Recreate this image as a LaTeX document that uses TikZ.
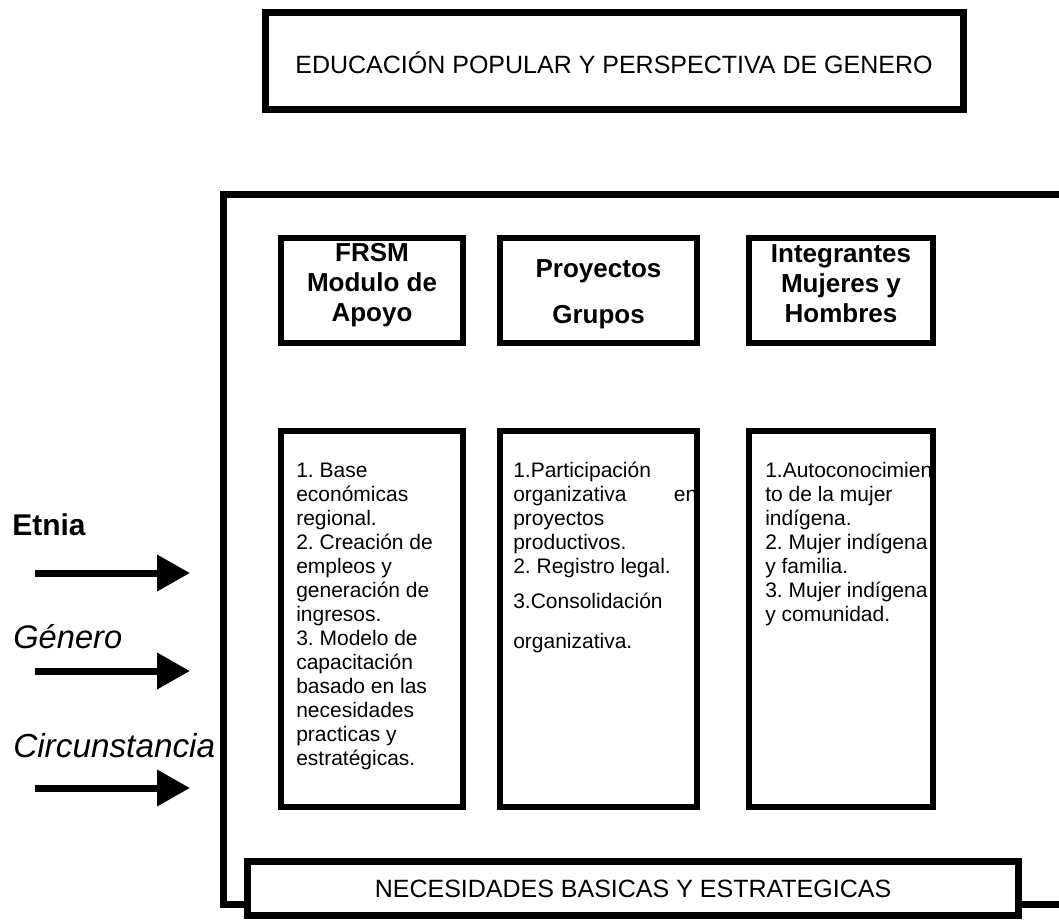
\documentclass[tikz,border=0pt]{standalone}
\usepackage{fontspec}
\setmainfont{Liberation Sans}
\usetikzlibrary{arrows.meta,fit}
\frenchspacing
\begin{document}
\begin{tikzpicture}[x=0.75pt,y=-0.75pt,
  thickbox/.style={draw=black,line width=5.25pt,fill=white,inner sep=0pt},
  innerbox/.style={draw=black,line width=4.5pt,inner sep=0pt},
  bigtxt/.style={inner sep=0pt,font=\fontsize{18.75}{22}\selectfont},
  headtxt/.style={inner sep=0pt,align=center,font=\bfseries\fontsize{19.5}{22.5}\selectfont},
  bodytxt/.style={inner sep=0pt,anchor=north west,align=left,font=\fontsize{15.75}{18}\selectfont},
  sidelbl/.style={inner sep=0pt,anchor=west},
  bigarrow/.style={line width=5.25pt,-{Triangle[length=24.75pt,width=26.25pt]}}
]
\useasboundingbox[fill=white] (0,0) rectangle (1059,923);

% title
\node[thickbox,fit={(265,13) (963,110)}] (title) {};
\node[bigtxt] (titlet) at (614,63) {EDUCACIÓN POPULAR Y PERSPECTIVA DE GENERO};

% outer frame
\coordinate (oTR) at (1070,195);
\coordinate (oTL) at (223,195);
\coordinate (oBL) at (223,904);
\coordinate (oBR) at (1070,904);
\draw[line width=5.25pt] (oTR) -- (oTL) -- (oBL) -- (oBR);

% header boxes
\node[innerbox,fit={(281,238) (463,343)}] (h1) {};
\node[innerbox,fit={(500,238) (697,343)}] (h2) {};
\node[innerbox,fit={(749,238) (933,343)}] (h3) {};
\node[headtxt] (h1t) at (372,285) {FRSM\\Modulo de\\Apoyo};
\node[headtxt] (h2t) at (598.5,294) {Proyectos\\[12pt]Grupos};
\node[headtxt] (h3t) at (841,284) {Integrantes\\Mujeres y\\Hombres};

% content boxes
\node[innerbox,fit={(281,431) (463,807)}] (c1) {};
\node[innerbox,fit={(500,431) (697,807)}] (c2) {};
\node[innerbox,fit={(749,431) (933,807)}] (c3) {};

\node[bodytxt] (c1t) at (296,460) {\strut 1. Base\\económicas\\regional.\\2. Creación de\\empleos y\\generación de\\ingresos.\\3. Modelo de\\capacitación\\basado en las\\necesidades\\practicas y\\estratégicas.};
\node[bodytxt] (c2t) at (513,460) {\strut 1.Participación\\\makebox[138pt][s]{organizativa en}\\proyectos\\productivos.\\2. Registro legal.\\[8.25pt]3.Consolidación\\[12pt]organizativa.};
\node[bodytxt] (c3t) at (765,460) {\strut 1.Autoconocimien\\to de la mujer\\indígena.\\2. Mujer indígena\\y familia.\\3. Mujer indígena\\y comunidad.};

% bottom box
\node[thickbox,fit={(247.5,861.5) (1018.5,915.5)}] (bottom) {};
\node[bigtxt] (bottomt) at (633,889) {NECESIDADES BASICAS Y ESTRATEGICAS};

% side labels
\node[sidelbl,font=\bfseries\fontsize{22.5}{27}\selectfont] (etnia) at (12,525) {Etnia};
\node[sidelbl,font=\itshape\fontsize{24.5}{29}\selectfont] (genero) at (13,637) {Género};
\node[sidelbl,font=\itshape\fontsize{25}{30}\selectfont] (circ) at (13,746) {Circunstancia};

% arrows
\coordinate (a1s) at (35,573); \coordinate (a1e) at (190,573);
\coordinate (a2s) at (35,671); \coordinate (a2e) at (190,671);
\coordinate (a3s) at (35,788); \coordinate (a3e) at (190,788);
\draw[bigarrow] (a1s) -- (a1e);
\draw[bigarrow] (a2s) -- (a2e);
\draw[bigarrow] (a3s) -- (a3e);
\end{tikzpicture}
\end{document}
